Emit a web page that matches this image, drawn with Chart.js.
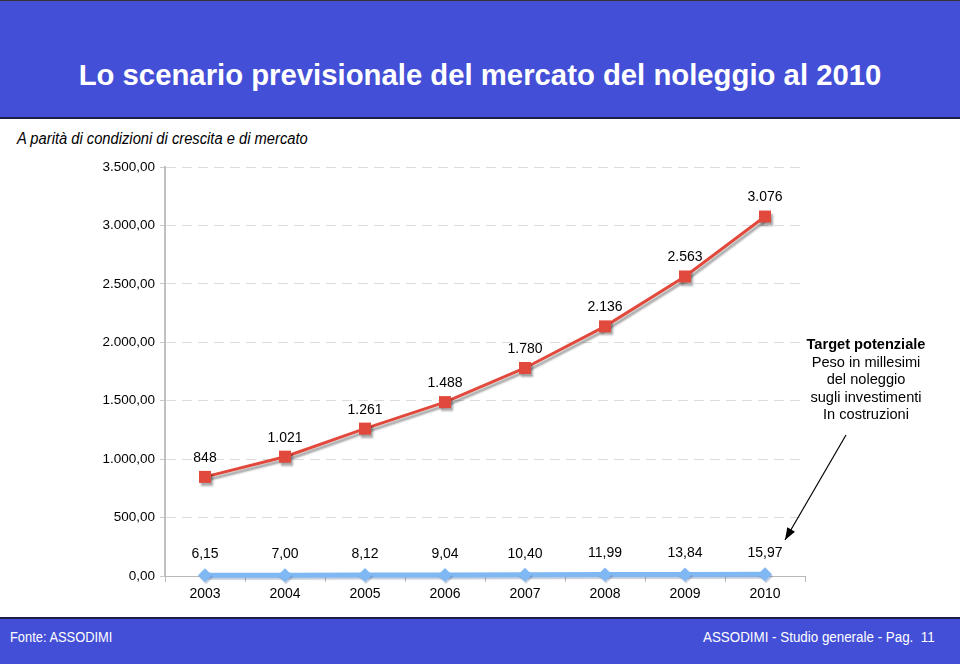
<!DOCTYPE html>
<html lang="it">
<head>
<meta charset="UTF-8">
<title>Lo scenario previsionale del mercato del noleggio al 2010</title>
<script src="https://cdn.jsdelivr.net/npm/chart.js"></script>
<style>
    body { margin: 0; width: 960px; height: 664px; position: relative; background: #fff; font-family: "Liberation Sans", Arial, sans-serif; overflow: hidden; }
    .cabecera { position: absolute; left: 0; top: 0; width: 960px; height: 116px; background: #434fd6; border-top: 1px solid #333; border-bottom: 2px solid #1d1f4a; }
    .titolo { position: absolute; left: 0; width: 960px; top: 57px; text-align: center; color: #fff; font-weight: bold; font-size: 29.3px; }
    .stretto { display: inline-block; transform: scaleX(0.92); transform-origin: left center; white-space: nowrap; }
    .sottotitolo { position: absolute; left: 17px; top: 130px; font-style: italic; font-size: 16px; color: #000; }
    .nota { position: absolute; left: 781px; width: 170px; top: 336px; text-align: center; font-size: 14.6px; line-height: 17.5px; color: #000; }
    .piede { position: absolute; left: 0; top: 617px; width: 960px; height: 47px; background: #434fd6; border-top: 2px solid #1d1f4a; font-size: 14px; color: #fff; }
    .piede .sx { position: absolute; left: 10px; top: 10px; }
    .piede .dx { position: absolute; left: 703px; top: 10px; transform: scaleX(0.955); }
    #grafico { position: absolute; left: 0; top: 150px; }
</style>
</head>
<body>
    <div class="cabecera"><div class="titolo">Lo scenario previsionale del mercato del noleggio al 2010</div></div>
    <div class="sottotitolo"><span class="stretto">A parità di condizioni di crescita e di mercato</span></div>
    <canvas id="grafico" width="960" height="465"></canvas>
    <div class="nota"><b>Target potenziale</b><br>Peso in millesimi<br>del noleggio<br>sugli investimenti<br>In costruzioni</div>
    <div class="piede"><span class="sx stretto">Fonte: ASSODIMI</span><span class="dx stretto">ASSODIMI - Studio generale - Pag.&nbsp; 11</span></div>

<script>
    // dati
    var anni = ["2003", "2004", "2005", "2006", "2007", "2008", "2009", "2010"];
    var mercato = [848, 1021, 1261, 1488, 1780, 2136, 2563, 3076];
    var millesimi = [6.15, 7.00, 8.12, 9.04, 10.40, 11.99, 13.84, 15.97];
    var etichetteMercato = ["848", "1.021", "1.261", "1.488", "1.780", "2.136", "2.563", "3.076"];
    var etichetteMillesimi = ["6,15", "7,00", "8,12", "9,04", "10,40", "11,99", "13,84", "15,97"];

    // formato italiano 3.500,00
    function formatoIt(v) {
        var s = Math.round(v).toString().replace(/\B(?=(\d{3})+(?!\d))/g, ".");
        return s + ",00";
    }

    // ombra sotto le linee
    var ombraPlugin = {
        id: 'ombra',
        beforeDatasetDraw: function(chart, args) {
            var ctx = chart.ctx;
            ctx.save();
            if (args.index == 1) {
                ctx.shadowColor = 'rgba(0,0,0,0.35)';
                ctx.shadowOffsetX = 2;
                ctx.shadowOffsetY = 3;
                ctx.shadowBlur = 2;
            } else {
                ctx.shadowColor = 'rgba(60,90,140,0.3)';
                ctx.shadowOffsetX = 1;
                ctx.shadowOffsetY = 2;
                ctx.shadowBlur = 1;
            }
        },
        afterDatasetDraw: function(chart) {
            chart.ctx.restore();
        }
    };

    // etichette dei valori e freccia
    var etichettePlugin = {
        id: 'etichette',
        afterDatasetsDraw: function(chart) {
            var ctx = chart.ctx;
            ctx.save();
            ctx.font = '14px "Liberation Sans", Arial, sans-serif';
            ctx.fillStyle = '#000';
            ctx.textAlign = 'center';
            ctx.textBaseline = 'middle';
            chart.getDatasetMeta(1).data.forEach(function(p, i) {
                ctx.fillText(etichetteMercato[i], p.x, p.y - 19);
            });
            chart.getDatasetMeta(0).data.forEach(function(p, i) {
                ctx.fillText(etichetteMillesimi[i], p.x, p.y - 21);
            });
            // freccia verso la serie dei millesimi
            var a = chart.chartArea;
            var x1 = a.right + 41, y1 = chart.scales.y.getPixelForValue(1206);
            var x2 = a.right - 20, y2 = chart.scales.y.getPixelForValue(308);
            ctx.strokeStyle = '#000';
            ctx.lineWidth = 1.2;
            ctx.beginPath();
            ctx.moveTo(x1, y1);
            ctx.lineTo(x2, y2);
            ctx.stroke();
            var ang = Math.atan2(y2 - y1, x2 - x1);
            ctx.beginPath();
            ctx.moveTo(x2, y2);
            ctx.lineTo(x2 - 13 * Math.cos(ang - 0.35), y2 - 13 * Math.sin(ang - 0.35));
            ctx.lineTo(x2 - 13 * Math.cos(ang + 0.35), y2 - 13 * Math.sin(ang + 0.35));
            ctx.closePath();
            ctx.fillStyle = '#000';
            ctx.fill();
            ctx.restore();
        }
    };

    Chart.defaults.font.family = '"Liberation Sans", Arial, sans-serif';
    Chart.defaults.color = '#000';

    var chart = new Chart(document.getElementById('grafico'), {
        type: 'line',
        data: {
            labels: anni,
            datasets: [{
                label: 'Peso in millesimi',
                data: millesimi,
                borderColor: '#7fb8f2',
                backgroundColor: '#7fb8f2',
                borderWidth: 5,
                pointStyle: 'rectRot',
                pointRadius: 7,
                pointBorderWidth: 0,
                tension: 0,
                clip: false
            }, {
                label: 'Mercato',
                data: mercato,
                borderColor: '#e2493d',
                backgroundColor: '#e2493d',
                borderWidth: 3,
                pointStyle: 'rect',
                pointRadius: 8.5,
                pointBorderWidth: 0,
                tension: 0,
                clip: false
            }]
        },
        options: {
            responsive: false,
            animation: false,
            layout: { padding: { top: 17, right: 155, left: 0, bottom: 0 } },
            plugins: { legend: { display: false }, tooltip: { enabled: false } },
            scales: {
                x: {
                    offset: true,
                    grid: { offset: true, drawOnChartArea: false, drawTicks: true, tickLength: 6, color: '#b8b8b8' },
                    border: { color: '#b8b8b8', width: 1 },
                    ticks: { font: { size: 14 }, padding: 4 },
                    afterFit: function(s) { s.height = 39; }
                },
                y: {
                    min: 0,
                    max: 3500,
                    grid: { color: '#dcdcdc', tickLength: 5, tickColor: '#c8c8c8' },
                    border: { color: '#c0c0c0', width: 2, dash: [10, 6] },
                    ticks: { stepSize: 500, font: { size: 13.5 }, padding: 5, callback: function(v) { return formatoIt(v); } },
                    afterFit: function(s) { s.width = 165; }
                }
            }
        },
        plugins: [ombraPlugin, etichettePlugin]
    });
</script>
</body>
</html>
